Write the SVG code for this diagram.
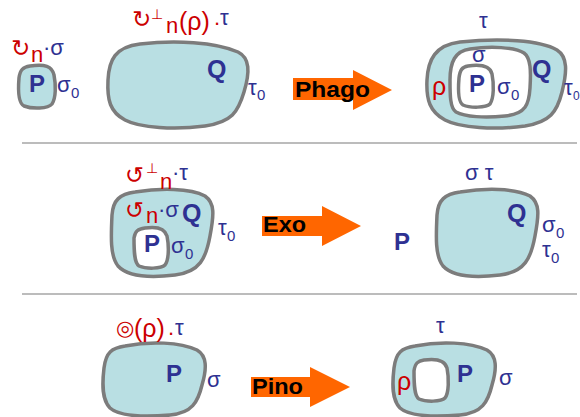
<svg xmlns="http://www.w3.org/2000/svg" width="580" height="417" viewBox="0 0 580 417">
<style>
text{font-family:"Liberation Sans",Arial,"DejaVu Sans",sans-serif}
.m{fill:#b9dfe3;stroke:#7c7c7c;stroke-width:3.5}
.w{fill:#ffffff;stroke:#7c7c7c;stroke-width:3.5}
.bl{fill:#2e3192;font-size:22px}
.rd{fill:#cc0000;font-size:22px}
.bp{fill:#2e3192;font-size:24px;font-weight:bold}
.sub{fill:#2e3192;font-size:15px}
.sym{fill:#cc0000;font-size:23px;font-family:"DejaVu Sans",sans-serif}
.sup{fill:#cc0000;font-size:14px}
.arr{fill:#ff6600}
.al{fill:#000;font-size:22px;font-weight:bold}
.div{stroke:#a6a6a6;stroke-width:1.5}
</style>
<rect width="580" height="417" fill="#ffffff"/>
<line class="div" x1="22" y1="143" x2="577" y2="143"/>
<line class="div" x1="22" y1="294" x2="577" y2="294"/>

<g id="phago-P">
<path class="m" d="M30 66 C45 64 52 66 54 75 C56 85 56 98 52 104 C48 109 32 109 24 106 C18 103 18 90 19 78 C20 70 23 67 30 66 Z"/>
<text class="sym" x="11" y="56">↻</text><text class="rd" x="31" y="62">n</text><text class="bl" x="43" y="55">·σ</text>
<text class="bp" x="29" y="92">P</text>
<text class="bl" x="57" y="92">σ</text><text class="sub" x="71" y="98">0</text>
</g>

<g id="phago-Q">
<path class="m" d="M140 44 C175 40 215 42 238 52 C250 58 250 72 244 92 C238 112 232 122 205 126 C175 130 140 128 125 120 C110 112 107 100 108 80 C109 60 115 47 140 44 Z"/>
<text class="sym" x="132" y="27">↻</text><text class="sup" x="151" y="19">⊥</text><text class="rd" x="166" y="33">n</text><text class="rd" x="179" y="30" style="font-size:25px">(ρ)</text><text class="rd" x="214" y="25">.</text><text class="bl" x="220" y="25">τ</text>
<text class="bp" x="207" y="78" style="font-size:25px">Q</text>
<text class="bl" x="248" y="95">τ</text><text class="sub" x="257" y="100">0</text>
</g>

<g id="phago-result">
<path class="m" d="M460 42 C500 38 540 40 557 50 C568 57 567 72 562 92 C557 112 550 122 525 126 C495 130 460 128 445 120 C430 112 426 100 427 80 C428 60 435 45 460 42 Z"/>
<path class="w" d="M470 49 C490 46 515 47 524 53 C531 58 531 72 530 88 C529 104 526 114 505 116 C485 118 465 117 456 112 C450 108 450 95 450 80 C450 62 455 51 470 49 Z"/>
<path class="w" d="M468 66 C482 64 490 66 492 74 C494 84 494 98 490 104 C486 108 470 108 463 105 C458 102 458 90 459 78 C460 70 462 67 468 66 Z"/>
<text class="bl" x="479" y="28">τ</text>
<text class="bl" x="472" y="62">σ</text>
<text class="rd" x="432" y="95" style="font-size:25px">ρ</text>
<text class="bp" x="469" y="92">P</text>
<text class="bl" x="497" y="94">σ</text><text class="sub" x="511" y="100">0</text>
<text class="bp" x="532" y="78" style="font-size:25px">Q</text>
<text class="bl" x="564" y="95">τ</text><text class="sub" x="573" y="100" style="font-size:12px">0</text>
</g>

<g id="exo-Q">
<path class="m" d="M135 192 C160 188 190 188 205 196 C215 203 214 215 210 236 C206 258 200 272 175 275 C150 278 128 277 118 266 C110 256 111 236 112 215 C113 200 120 194 135 192 Z"/>
<path class="w" d="M145 228 C158 226 165 229 167 236 C169 246 169 260 165 265 C161 269 146 269 139 266 C134 263 134 250 134 238 C135 231 138 229 145 228 Z"/>
<text class="sym" x="125" y="183">↺</text><text class="sup" x="146" y="173">⊥</text><text class="rd" x="160" y="189">n</text><text class="bl" x="172" y="180">·τ</text>
<text class="sym" x="125" y="218">↺</text><text class="rd" x="146" y="223">n</text><text class="bl" x="158" y="217">·σ</text>
<text class="bp" x="182" y="222" style="font-size:25px">Q</text>
<text class="bl" x="218" y="235">τ</text><text class="sub" x="227" y="241">0</text>
<text class="bp" x="144" y="252">P</text>
<text class="bl" x="171" y="253">σ</text><text class="sub" x="185" y="259">0</text>
</g>

<g id="exo-P">
<text class="bp" x="394" y="250">P</text>
</g>

<g id="exo-result">
<path class="m" d="M460 192 C485 188 515 188 530 196 C540 203 539 215 535 236 C531 258 525 272 500 275 C475 278 453 277 443 266 C435 256 436 236 437 215 C438 200 445 194 460 192 Z"/>
<text class="bl" x="465" y="180">σ τ</text>
<text class="bp" x="507" y="222" style="font-size:25px">Q</text>
<text class="bl" x="542" y="232">σ</text><text class="sub" x="556" y="238">0</text>
<text class="bl" x="542" y="257">τ</text><text class="sub" x="551" y="263">0</text>
</g>

<g id="pino-P">
<path class="m" d="M125 346 C150 341 180 342 197 350 C207 356 207 368 202 385 C198 402 192 413 170 415 C145 417 120 417 110 408 C102 400 102 385 104 368 C106 352 112 348 125 346 Z"/>
<text class="sym" x="116" y="335" style="font-size:21px">◎</text><text class="rd" x="134" y="337" style="font-size:25px">(ρ)</text><text class="rd" x="168" y="335">.</text><text class="bl" x="175" y="335">τ</text>
<text class="bp" x="166" y="382">P</text>
<text class="bl" x="207" y="387">σ</text>
</g>

<g id="pino-result">
<path class="m" d="M415 346 C440 341 470 342 487 350 C497 356 497 368 492 385 C488 402 482 413 460 415 C435 417 410 417 400 408 C392 400 392 385 394 368 C396 352 402 348 415 346 Z"/>
<path class="w" d="M424 360 C438 358 445 361 447 368 C449 378 449 393 445 398 C441 402 426 402 419 399 C414 396 414 383 414 371 C415 363 418 361 424 360 Z"/>
<text class="bl" x="436" y="333">τ</text>
<text class="rd" x="397" y="390" style="font-size:25px">ρ</text>
<text class="bp" x="457" y="382">P</text>
<text class="bl" x="499" y="385">σ</text>
</g>

<g id="connectors">
<polygon class="arr" points="293,78 353,78 353,70 392,90 353,110 353,100 293,100"/>
<text class="al" x="295" y="97" textLength="75" lengthAdjust="spacingAndGlyphs">Phago</text>
<polygon class="arr" points="262,216 322,216 322,206 361,226 322,246 322,236 262,236"/>
<text class="al" x="263" y="232" textLength="43" lengthAdjust="spacingAndGlyphs">Exo</text>
<polygon class="arr" points="251,377 310,377 310,367 350,387 310,407 310,397 251,397"/>
<text class="al" x="252" y="394" textLength="51" lengthAdjust="spacingAndGlyphs">Pino</text>
</g>
</svg>
